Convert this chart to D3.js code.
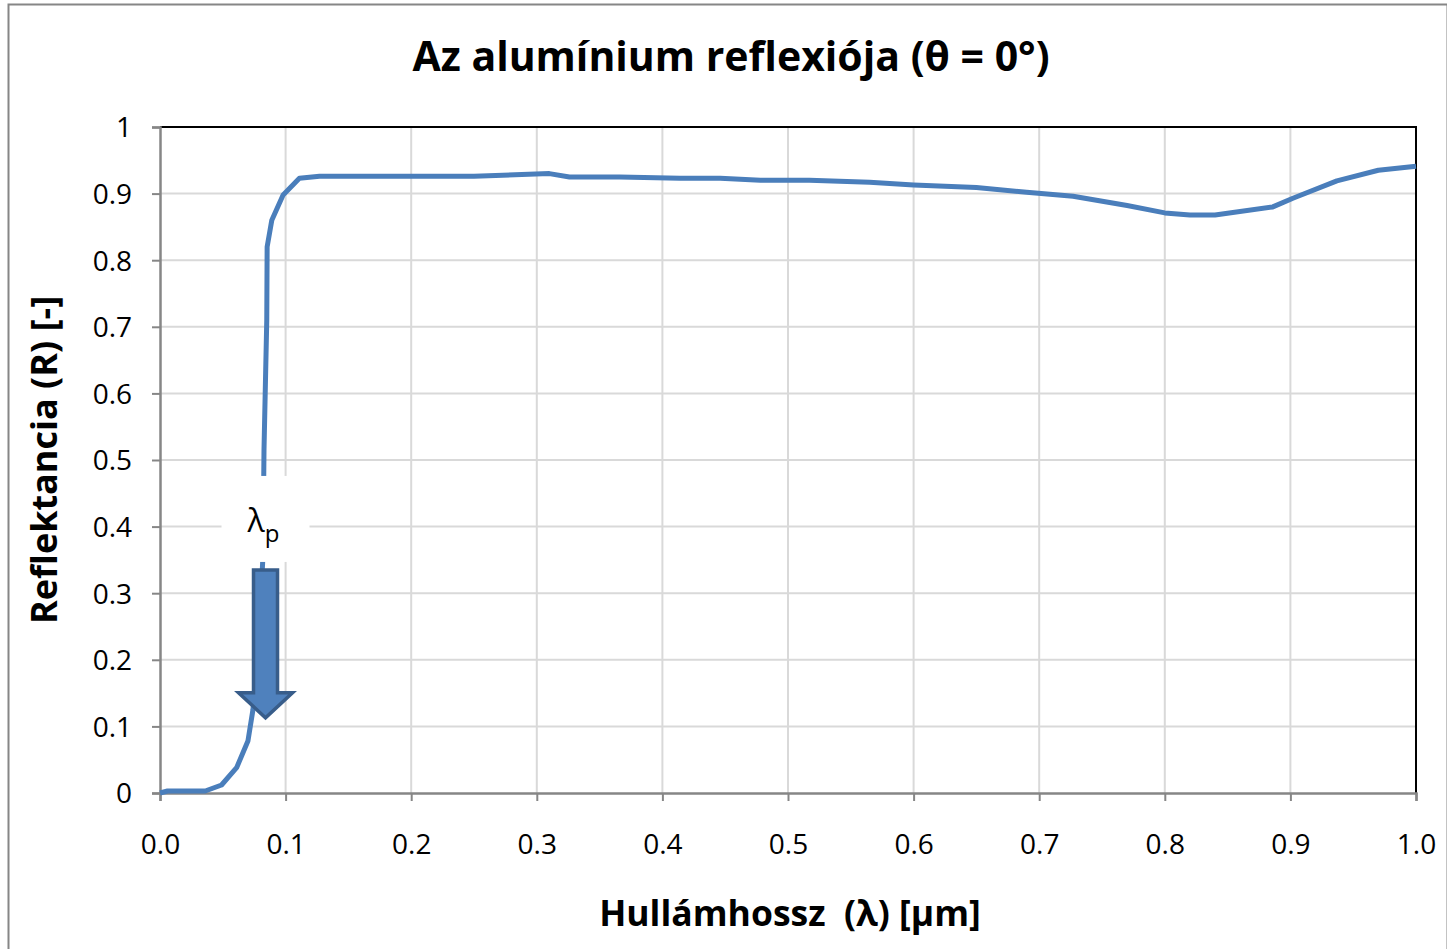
<!DOCTYPE html>
<html>
<head>
<meta charset="utf-8">
<script src="https://cdn.jsdelivr.net/npm/d3@7"></script>
<style>
  body { margin: 0; background: #fff; }
  svg text { font-family: "Open Sans", Lato, sans-serif; }
</style>
</head>
<body>
<div id="chart"></div>
<script>
// Aluminium reflectance vs wavelength
const wavelength = [0, 0.006, 0.02, 0.036, 0.049, 0.061, 0.07, 0.074, 0.078, 0.082, 0.0828, 0.085, 0.0853,
  0.089, 0.098, 0.111, 0.127, 0.25, 0.31, 0.326, 0.366, 0.414, 0.446, 0.478, 0.517, 0.565, 0.6, 0.65, 0.69,
  0.727, 0.77, 0.8, 0.82, 0.84, 0.886, 0.902, 0.937, 0.97, 1.0];
const reflectance = [0, 0.003, 0.003, 0.003, 0.012, 0.038, 0.078, 0.125, 0.2, 0.357, 0.515, 0.71, 0.82,
  0.86, 0.898, 0.923, 0.926, 0.926, 0.93, 0.925, 0.925, 0.923, 0.923, 0.92, 0.92, 0.917, 0.913, 0.909, 0.902,
  0.896, 0.882, 0.871, 0.868, 0.868, 0.88, 0.893, 0.919, 0.935, 0.941];
const xTicks = [0, 0.1, 0.2, 0.3, 0.4, 0.5, 0.6, 0.7, 0.8, 0.9, 1.0];
const yTicks = [0, 0.1, 0.2, 0.3, 0.4, 0.5, 0.6, 0.7, 0.8, 0.9, 1];
// plasma wavelength marker: arrow from R=0.335 down to R=0.113 at lambda=0.084
const marker = { lambda: 0.084, top: 0.335, tip: 0.113, label: 0.41 };

const width = 1447, height = 949;
const margin = { left: 160, right: 31, top: 127, bottom: 156 };

const svg = d3.select('#chart').append('svg')
  .attr('width', width)
  .attr('height', height);

// outer chart frame
svg.append('rect')
  .attr('x', 8.5).attr('y', 4.5)
  .attr('width', width - 8).attr('height', height)
  .style('fill', 'none')
  .style('stroke', '#868686')
  .style('stroke-width', 2);

const x = d3.scaleLinear().domain([0, 1]).range([margin.left, width - margin.right]);
const y = d3.scaleLinear().domain([0, 1]).range([height - margin.bottom, margin.top]);

// gridlines
svg.append('g')
  .selectAll('line.vgrid')
  .data(xTicks.slice(1, -1))
  .join('line')
  .attr('x1', d => x(d)).attr('x2', d => x(d))
  .attr('y1', y(0)).attr('y2', y(1))
  .style('stroke', '#d9d9d9').style('stroke-width', 2);

svg.append('g')
  .selectAll('line.hgrid')
  .data(yTicks.slice(1, -1))
  .join('line')
  .attr('x1', x(0)).attr('x2', x(1))
  .attr('y1', d => y(d)).attr('y2', d => y(d))
  .style('stroke', '#d9d9d9').style('stroke-width', 2);

// top and right border of the plot area
svg.append('path')
  .attr('d', `M${x(0)},${y(1)}H${x(1)}V${y(0)}`)
  .style('fill', 'none').style('stroke', '#000').style('stroke-width', 2);

// axes
const xAxis = svg.append('g')
  .attr('transform', `translate(0,${y(0)})`)
  .call(d3.axisBottom(x).tickValues(xTicks).tickFormat(d3.format('.1f')).tickSize(8).tickPadding(33));
const yAxis = svg.append('g')
  .attr('transform', `translate(${x(0)},0)`)
  .call(d3.axisLeft(y).tickValues(yTicks).tickFormat(d => d === 0 || d === 1 ? d : d3.format('.1f')(d)).tickSize(8).tickPadding(20));

[xAxis, yAxis].forEach(a => {
  a.select('.domain').style('stroke', '#868686').style('stroke-width', 2.5);
  a.selectAll('.tick line').style('stroke', '#868686').style('stroke-width', 2);
  a.selectAll('.tick text').style('font-size', '28px').style('fill', '#000');
});
yAxis.selectAll('.tick text').attr('dy', '0.35em');

// reflectance curve
const line = d3.line()
  .x((d, i) => x(wavelength[i]))
  .y(d => y(d));

svg.append('path')
  .datum(reflectance)
  .attr('d', line)
  .style('fill', 'none')
  .style('stroke', '#4a7ebb')
  .style('stroke-width', 5)
  .style('stroke-linejoin', 'round');

// label box for lambda_p
const lx = x(marker.lambda), ly = y(marker.label);
svg.append('rect')
  .attr('x', lx - 44).attr('y', ly - 44)
  .attr('width', 88).attr('height', 86)
  .style('fill', '#fff');

const lbl = svg.append('text')
  .attr('x', lx - 2).attr('y', ly + 12)
  .attr('text-anchor', 'middle')
  .style('font-size', '32px')
  .style('fill', '#000');
lbl.append('tspan').text('λ');
lbl.append('tspan').attr('dy', 10).style('font-size', '24px').text('p');

// block arrow
const at = y(marker.top), ab = y(marker.tip), headY = ab - 25;
const arrow = `M${lx - 12},${at}H${lx + 12}V${headY}H${lx + 27}L${lx},${ab}L${lx - 27},${headY}H${lx - 12}Z`;
svg.append('path')
  .attr('d', arrow)
  .style('fill', '#4f81bd')
  .style('stroke', '#385d8a')
  .style('stroke-width', 3.5)
  .style('stroke-linejoin', 'miter');

// titles
svg.append('text')
  .attr('x', 731).attr('y', 71)
  .attr('text-anchor', 'middle')
  .style('font-size', '41px').style('font-weight', 'bold')
  .text('Az alumínium reflexiója (θ = 0°)');

svg.append('text')
  .attr('x', 790).attr('y', 926)
  .attr('text-anchor', 'middle')
  .style('font-size', '35.5px').style('font-weight', 'bold')
  .attr('xml:space', 'preserve')
  .text('Hullámhossz  (λ) [µm]');

svg.append('text')
  .attr('transform', `translate(57,${(y(0) + y(1)) / 2}) rotate(-90)`)
  .attr('text-anchor', 'middle')
  .style('font-size', '36px').style('font-weight', 'bold')
  .text('Reflektancia (R) [-]');
</script>
</body>
</html>
